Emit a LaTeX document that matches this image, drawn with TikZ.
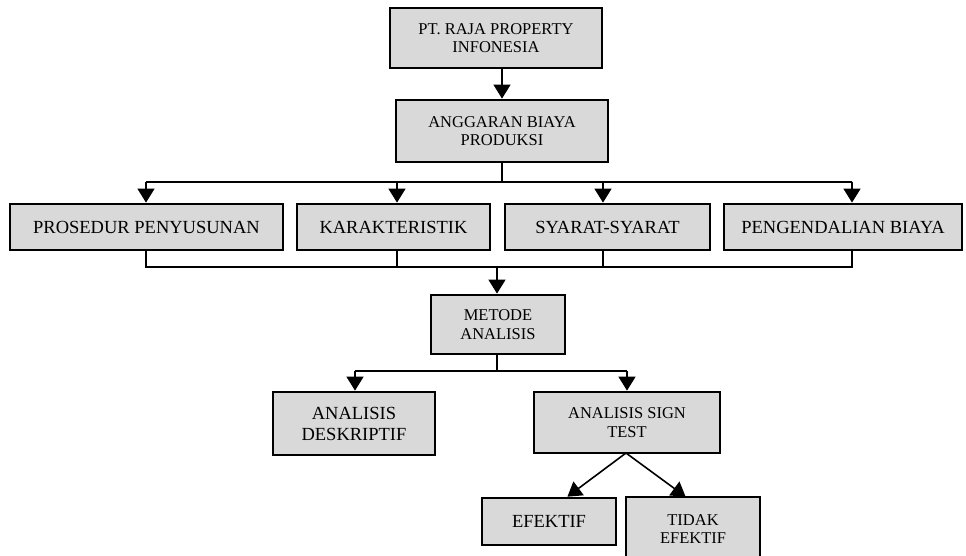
\documentclass[tikz,border=0pt]{standalone}
\usepackage{fontspec}
\setmainfont{Liberation Serif}
\usetikzlibrary{arrows.meta}
\definecolor{boxgray}{HTML}{D9D9D9}
\begin{document}
\begin{tikzpicture}[x=1pt,y=-1pt,
  box/.style={draw=black, line width=1.8pt, fill=boxgray, inner sep=0pt, align=center, text=black},
  small/.style={font=\fontsize{16.5}{18.5}\selectfont},
  big/.style={font=\fontsize{18.5}{21}\selectfont},
  conn/.style={line width=1.6pt, draw=black},
  arr/.style={conn, -{Triangle[length=14pt,width=17pt]}, shorten >=0.5pt}]
\useasboundingbox (0,0) rectangle (966,556);
\begin{scope}
\clip (0,0) rectangle (966,556);
\node[box,small,minimum width=212pt,minimum height=60pt] (top) at (496,38) {PT. RAJA PROPERTY\\INFONESIA};
\node[box,small,minimum width=212pt,minimum height=62pt] (ang) at (502,131) {ANGGARAN BIAYA\\PRODUKSI};
\node[box,big,minimum width=273pt,minimum height=46pt] (p1) at (146.5,227) {PROSEDUR PENYUSUNAN};
\node[box,big,minimum width=193pt,minimum height=46pt] (p2) at (393.5,227) {KARAKTERISTIK};
\node[box,big,minimum width=205pt,minimum height=46pt] (p3) at (607.5,227) {SYARAT-SYARAT};
\node[box,big,minimum width=238pt,minimum height=46pt] (p4) at (843,227) {PENGENDALIAN BIAYA};
\node[box,small,minimum width=134pt,minimum height=59pt] (met) at (498,324.5) {METODE\\ANALISIS};
\node[box,big,minimum width=162pt,minimum height=63pt] (desk) at (354,423.5) {ANALISIS\\DESKRIPTIF};
\node[box,small,minimum width=186pt,minimum height=61pt] (sign) at (627,422.5) {ANALISIS SIGN\\TEST};
\node[box,big,minimum width=134pt,minimum height=47pt] (ef) at (549,521.5) {EFEKTIF};
\node[box,small,minimum width=134pt,minimum height=64pt] (tid) at (693,529) {TIDAK\\EFEKTIF};
\end{scope}
% top -> ang
\draw[arr] (top.south -| ang.north) -- (ang.north);
% bus 1
\coordinate (a1) at (146,182);
\coordinate (a2) at (397,182);
\coordinate (a3) at (603,182);
\coordinate (a4) at (852,182);
\draw[conn] (ang.south) -- (ang.south |- a1);
\draw[conn] (a1) -- (a4);
\draw[arr] (a1) -- (a1 |- p1.north);
\draw[arr] (a2) -- (a2 |- p2.north);
\draw[arr] (a3) -- (a3 |- p3.north);
\draw[arr] (a4) -- (a4 |- p4.north);
% bus 2
\coordinate (c1) at (146,267);
\coordinate (c2) at (397,267);
\coordinate (c3) at (603,267);
\coordinate (c4) at (852,267);
\coordinate (cm) at (497,267);
\draw[conn] (c1 |- p1.south) -- (c1) -- (c4) -- (c4 |- p4.south);
\draw[conn] (c2 |- p2.south) -- (c2);
\draw[conn] (c3 |- p3.south) -- (c3);
\draw[arr] (cm) -- (cm |- met.north);
% bus 3
\coordinate (m0) at (497,371);
\coordinate (m1) at (355,371);
\coordinate (m2) at (627,371);
\draw[conn] (m0 |- met.south) -- (m0);
\draw[conn] (m1) -- (m2);
\draw[arr] (m1) -- (m1 |- desk.north);
\draw[arr] (m2) -- (m2 |- sign.north);
% sign -> ef, tid
\coordinate (s0) at (626,453);
\coordinate (e0) at (567,497);
\coordinate (t0) at (686,497);
\draw[arr] (s0) -- (e0);
\draw[arr] (s0) -- (t0);
\end{tikzpicture}
\end{document}
